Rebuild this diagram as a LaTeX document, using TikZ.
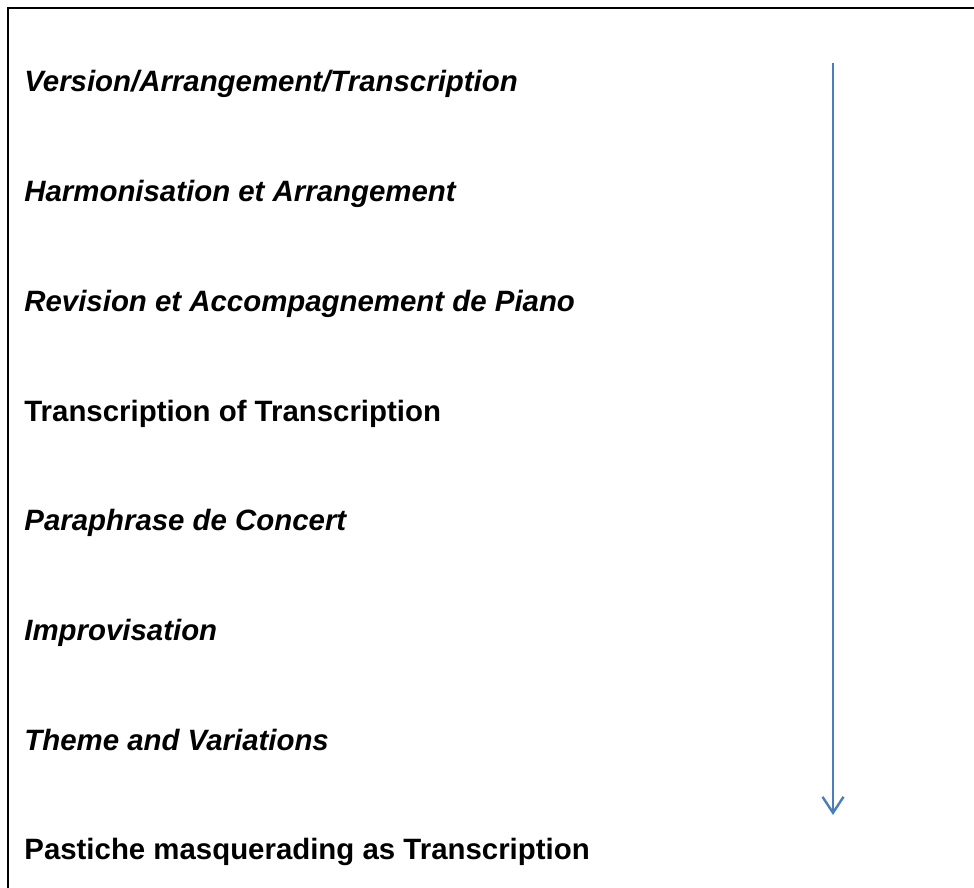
\documentclass[tikz,border=0pt]{standalone}
\usepackage{fontspec}
\setmainfont{Liberation Sans}
\usepackage{tikz}
\usetikzlibrary{arrows.meta}
\definecolor{arrowblue}{RGB}{74,126,187}
\tikzset{stage/.style={anchor=base west,inner sep=0pt,font=\fontsize{14.7}{17}\selectfont\bfseries\itshape}}
\tikzset{stageup/.style={stage,font=\fontsize{14.7}{17}\selectfont\bfseries}}
\tikzset{scalearrow/.style={draw=arrowblue,line width=1.2pt,-{Straight Barb[length=8pt,width=10.5pt,line width=1.2pt]}}}

\begin{document}
\begin{tikzpicture}[x=0.5pt,y=-0.5pt]
\useasboundingbox (0,0) rectangle (974,888);
%frame, only top and left are shown
\draw[line width=1pt] (7.5,888) -- (7.5,8.5) -- (974,8.5);
\node[stage] (ver) at (24,92) {Version/Arrangement/Transcription};
\node[stage] (harm) at (24,201.7) {Harmonisation et Arrangement};
\node[stage] (rev) at (24,311.4) {Revision et Accompagnement de Piano};
\node[stageup] (trans) at (24,421.1) {Transcription of Transcription};
\node[stage] (para) at (24,530.8) {Paraphrase de Concert};
\node[stage] (impro) at (24,640.5) {Improvisation};
\node[stage] (theme) at (24,750.2) {Theme and Variations};
\node[stageup] (past) at (24,859.9) {Pastiche masquerading as Transcription};
%the arrow
\coordinate (top) at (833,63);
\coordinate (bot) at (833,815);
\draw[scalearrow] (top) -- (bot);
\end{tikzpicture}
\end{document}
